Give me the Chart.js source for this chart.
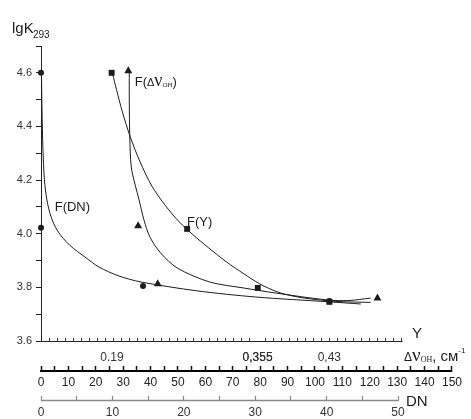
<!DOCTYPE html>
<html>
<head>
<meta charset="utf-8">
<script src="https://cdn.jsdelivr.net/npm/chart.js@4"></script>
<style>
  html, body { margin: 0; padding: 0; background: #fff; }
</style>
</head>
<body>
<canvas id="graph" width="471" height="419"></canvas>
<script>
// --- data (x in ΔνOH units, cm-1 ; y = lgK293) ---
const curveDnX = [0.18, 0.36, 0.72, 1.25, 2.15, 3.58, 6.09, 10.38, 16.47, 21.12, 28.28, 36.52, 56.92, 78.40, 105.25, 116.71];
const curveDnY = [4.600, 4.462, 4.313, 4.201, 4.126, 4.066, 4.010, 3.958, 3.910, 3.876, 3.843, 3.820, 3.787, 3.764, 3.746, 3.738];

const curveNuX = [32.22, 32.22, 32.40, 32.94, 34.37, 35.80, 37.59, 39.74, 43.68, 49.76, 61.58, 73.75, 85.56, 104.54, 112.41, 120.29];
const curveNuY = [4.604, 4.499, 4.361, 4.249, 4.182, 4.126, 4.051, 3.988, 3.928, 3.872, 3.820, 3.798, 3.779, 3.753, 3.751, 3.760];

const curveYX = [26.13, 27.57, 29.71, 32.58, 36.16, 40.45, 45.47, 50.48, 55.49, 61.22, 67.66, 74.11, 79.83, 86.28, 92.72, 99.88, 108.83, 120.29];
const curveYY = [4.596, 4.537, 4.454, 4.361, 4.268, 4.178, 4.104, 4.044, 3.996, 3.947, 3.895, 3.850, 3.813, 3.783, 3.766, 3.755, 3.747, 3.744];

const circlesX = [0, 0, 37.23, 105.25];
const circlesY = [4.600, 4.022, 3.805, 3.749];
const squaresX = [25.78, 53.34, 79.12, 105.25];
const squaresY = [4.600, 4.018, 3.798, 3.746];
const trianglesX = [31.86, 35.44, 42.60, 122.80];
const trianglesY = [4.607, 4.029, 3.813, 3.760];

// extra axis Y : 45 small divisions, labels at the Y values of the squares
const yDivisions = 45;
const yTickLabels = ['0.19', '0,355', '0,43'];
const yTickPos = [8.85, 27.0, 35.95];
// extra axis DN
const dnMax = 50;

const FONT = '"Liberation Sans", Arial, sans-serif';
const INK = '#1c1c1c';

function pts(xs, ys) {
    return xs.map((x, i) => ({ x: x, y: ys[i] }));
}

function curve(xs, ys) {
    return {
        data: pts(xs, ys), xAxisID: 'x', yAxisID: 'y', showLine: true, borderColor: INK, borderWidth: 1,
        pointRadius: 0, tension: 0.3, clip: false, order: 2
    };
}

function marks(xs, ys, style, r) {
    return {
        data: pts(xs, ys), xAxisID: 'x', yAxisID: 'y', showLine: false, pointStyle: style, pointRadius: r,
        backgroundColor: INK, borderColor: INK, borderWidth: 0, clip: false, order: 1
    };
}

// textes du graphique (positions en unités des axes)
const annotations = {
    id: 'annotations',
    afterDraw(chart) {
        const ctx = chart.ctx;
        const sx = chart.scales.x, sy = chart.scales.y;
        const sY = chart.scales.xY, sDN = chart.scales.xDN;
        ctx.save();
        ctx.fillStyle = INK;
        ctx.textBaseline = 'alphabetic';

        // axe Y : ligne jusqu'au dernier trait
        ctx.strokeStyle = '#222'; ctx.lineWidth = 1;
        ctx.beginPath();
        ctx.moveTo(sY.left, sY.top + 0.5);
        ctx.lineTo(sY.getPixelForValue(yDivisions) + 0.5, sY.top + 0.5);
        ctx.stroke();
        // axe DN
        ctx.strokeStyle = '#8a8a8a'; ctx.lineWidth = 1.5;
        ctx.beginPath();
        ctx.moveTo(sDN.left, sDN.top + 0.5);
        ctx.lineTo(sDN.getPixelForValue(dnMax) + 1, sDN.top + 0.5);
        ctx.stroke();

        // lgK293
        ctx.font = '15px ' + FONT;
        ctx.fillText('lgK', 12, 33);
        ctx.font = '10px ' + FONT;
        ctx.fillText('293', 33, 38);

        // F(DN), F(Y)
        ctx.font = '13px ' + FONT;
        ctx.fillText('F(DN)', sx.getPixelForValue(5.0), sy.getPixelForValue(4.085));
        ctx.fillText('F(Y)', sx.getPixelForValue(53.3), sy.getPixelForValue(4.029));

        // F(ΔνOH)
        let px = sx.getPixelForValue(34.2), py = sy.getPixelForValue(4.551);
        ctx.font = '13px ' + FONT;
        ctx.fillText('F(', px, py); px += ctx.measureText('F(').width;
        ctx.font = '11px ' + FONT;
        ctx.fillText('Δ', px, py); px += ctx.measureText('Δ').width;
        ctx.font = '18px "Liberation Serif", serif';
        ctx.fillText('ν', px, py); px += ctx.measureText('ν').width;
        ctx.font = '7px "Liberation Serif", serif';
        ctx.fillText('OH', px, py + 1); px += ctx.measureText('OH').width;
        ctx.font = '13px ' + FONT;
        ctx.fillText(')', px, py);

        // titre de l'axe Y
        ctx.font = '15px ' + FONT;
        ctx.fillText('Y', sY.getPixelForValue(yDivisions) + 10, sY.top - 3);

        // titre de l'axe Δν
        px = sx.getPixelForValue(132.5); py = sY.top + 20;
        ctx.font = '12px ' + FONT;
        ctx.fillText('Δ', px, py); px += ctx.measureText('Δ').width;
        ctx.font = '19px "Liberation Serif", serif';
        ctx.fillText('ν', px, py); px += ctx.measureText('ν').width;
        ctx.font = '8px "Liberation Serif", serif';
        ctx.fillText('OH', px, py + 1); px += ctx.measureText('OH').width;
        ctx.font = '15px ' + FONT;
        ctx.fillText(', см', px, py); px += ctx.measureText(', см').width;
        ctx.font = '8px ' + FONT;
        ctx.fillText('-1', px, py - 8);

        // titre de l'axe DN
        ctx.font = '15px ' + FONT;
        ctx.fillText('DN', sDN.getPixelForValue(dnMax) + 8, sDN.top + 6);
        ctx.restore();
    }
};

const tickFont = { family: FONT, size: 12 };

new Chart(document.getElementById('graph'), {
    type: 'scatter',
    data: {
        datasets: [
            curve(curveDnX, curveDnY),
            curve(curveNuX, curveNuY),
            curve(curveYX, curveYY),
            marks(circlesX, circlesY, 'circle', 3),
            marks(squaresX, squaresY, 'rect', 4.2),
            marks(trianglesX, trianglesY, 'triangle', 4.6)
        ]
    },
    options: {
        responsive: false,
        animation: false,
        devicePixelRatio: 1,
        layout: { padding: { top: 46, right: 11, left: 0, bottom: 0 } },
        plugins: { legend: { display: false }, tooltip: { enabled: false } },
        scales: {
            y: {
                position: 'left', min: 3.6, max: 4.7,
                afterFit: s => { s.width = 41; },
                border: { display: true, color: '#222', width: 1 },
                grid: { drawOnChartArea: false, drawTicks: true, tickLength: 5, tickColor: '#222' },
                ticks: {
                    stepSize: 0.1, autoSkip: false, padding: 4, color: '#333',
                    font: { family: FONT, size: 11 },
                    callback: v => {
                        const r = Math.round(v * 10);
                        return (r % 2 === 0 && r <= 46) ? (r / 10).toFixed(1) : '';
                    }
                }
            },
            xY: {
                type: 'linear', position: 'bottom', weight: 0,
                min: 0, max: yDivisions * 419 / 368,
                afterFit: s => { s.height = 30; },
                afterBuildTicks: s => {
                    const t = [];
                    for (let i = 0; i <= yDivisions; i++) t.push({ value: i });
                    yTickPos.forEach(p => t.push({ value: p, label: true }));
                    t.sort((a, b) => a.value - b.value);
                    s.ticks = t;
                },
                border: { display: false },
                grid: {
                    drawOnChartArea: false, drawTicks: true, tickLength: -3,
                    tickColor: c => yTickPos.includes(c.tick.value) ? 'rgba(0,0,0,0)' : '#333'
                },
                ticks: {
                    autoSkip: false, maxRotation: 0, padding: 12, color: '#333', font: tickFont,
                    callback: v => {
                        const k = yTickPos.indexOf(v);
                        return k >= 0 ? yTickLabels[k] : '';
                    }
                }
            },
            x: {
                type: 'linear', position: 'bottom', weight: 1, min: 0, max: 150,
                afterFit: s => { s.height = 29; },
                border: { display: true, color: '#000', width: 2 },
                grid: { drawOnChartArea: false, drawTicks: true, tickLength: -5, tickColor: '#111', tickWidth: 1.5 },
                ticks: {
                    stepSize: 5, autoSkip: false, maxRotation: 0, padding: 9, color: '#222', font: tickFont,
                    callback: v => (v % 10 === 0 ? v : '')
                }
            },
            xDN: {
                type: 'linear', position: 'bottom', weight: 2,
                min: 0, max: dnMax * 419 / 364,
                afterFit: s => { s.height = 19; },
                afterBuildTicks: s => {
                    s.ticks = s.ticks.filter(t => t.value <= dnMax);
                },
                border: { display: false },
                grid: { drawOnChartArea: false, drawTicks: true, tickLength: -4, tickColor: '#8a8a8a', tickWidth: 1.2 },
                ticks: {
                    stepSize: 5, autoSkip: false, maxRotation: 0, padding: 9, color: '#333', font: tickFont,
                    callback: v => (v % 10 === 0 ? v : '')
                }
            }
        }
    },
    plugins: [annotations]
});
</script>
</body>
</html>
